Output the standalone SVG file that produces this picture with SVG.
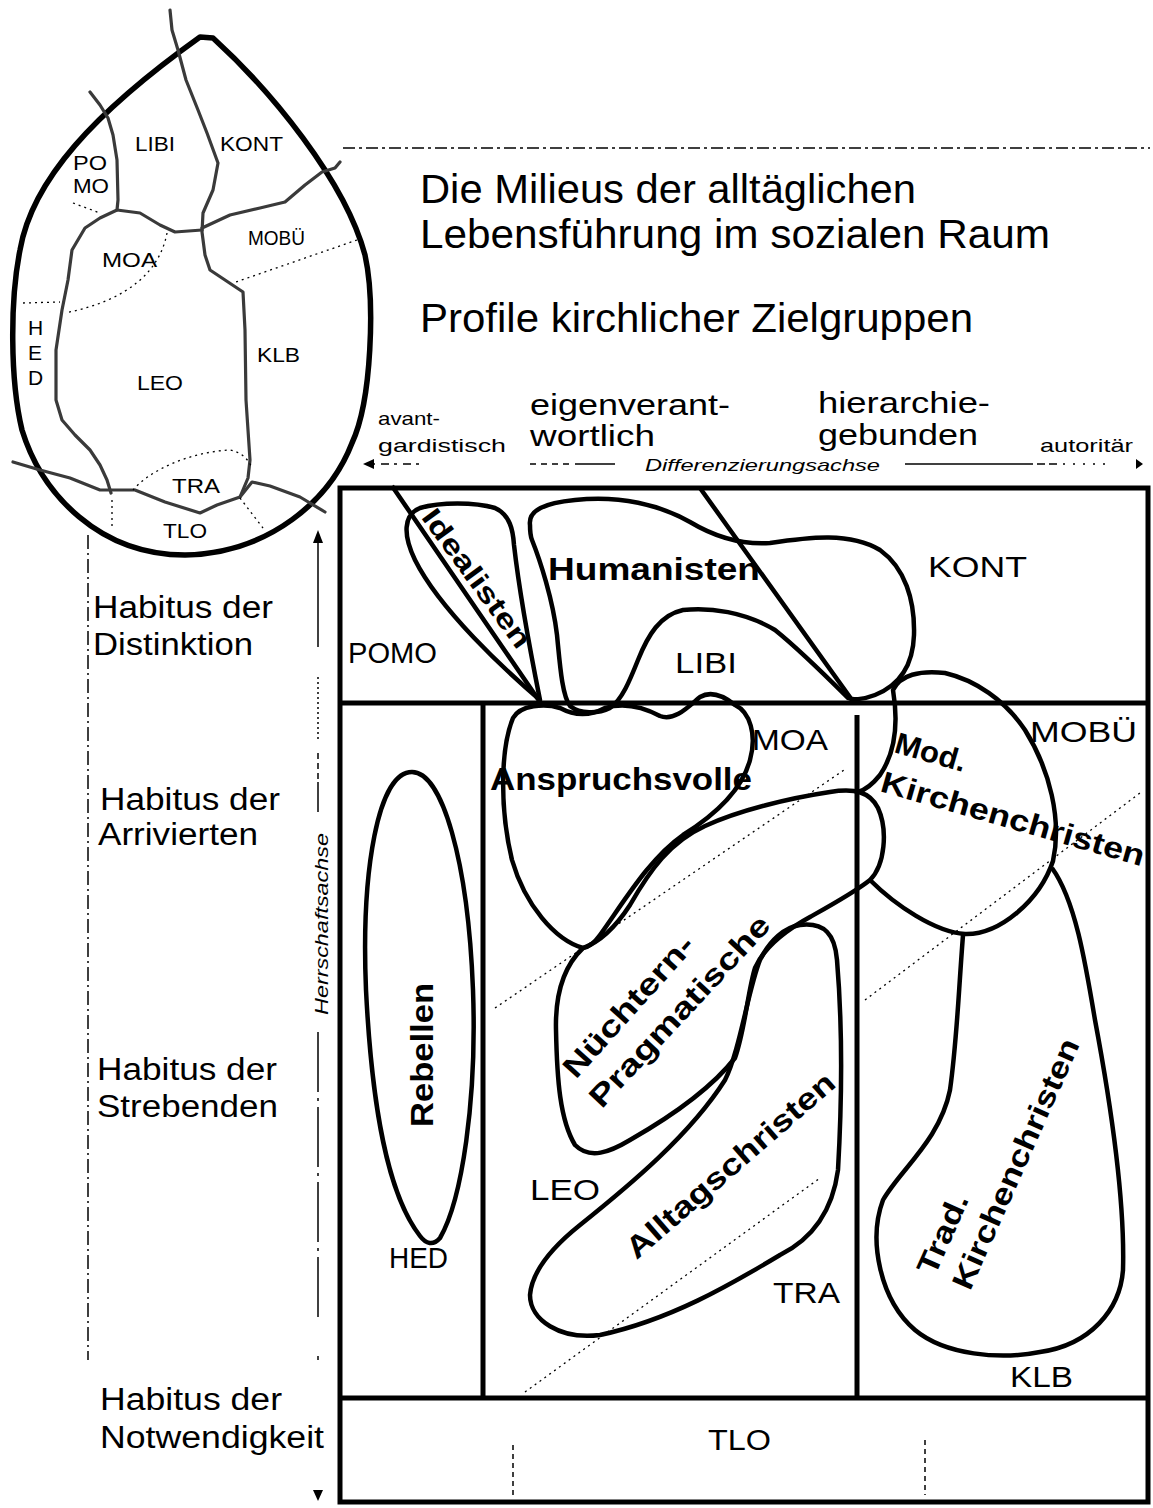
<svg xmlns="http://www.w3.org/2000/svg" width="1153" height="1508" viewBox="0 0 1153 1508">
<style>
.t{font-family:"Liberation Sans",Arial,sans-serif;fill:#000}
.b{font-weight:bold}
.i{font-style:italic}
.egg{fill:none;stroke:#000;stroke-width:5.5;stroke-linejoin:round}
.rope{fill:none;stroke:#3a3a3a;stroke-width:3.2;stroke-linejoin:round;stroke-linecap:round}
.dot{fill:none;stroke:#000;stroke-width:1.3;stroke-dasharray:2 4}
.frame{fill:none;stroke:#000;stroke-width:5}
.blob{fill:none;stroke:#000;stroke-width:4.5;stroke-linejoin:round}
.ax{fill:none;stroke:#000;stroke-width:1.5}
</style>
<rect width="1153" height="1508" fill="#fff"/>

<g id="egg-map">
<path class="egg" d="M 200,37 L 213,38 C 270,90 345,180 365,255 C 375,300 372,400 352,443 C 330,500 270,553 185,555 C 100,555 42,495 22,430 C 10,380 10,300 20,250 C 32,180 95,112 200,37 Z"/>
<path class="rope" d="M 170,10 L 172,30 L 178,50 L 186,80 L 198,110 L 207,133 L 218,163 L 213,190 L 203,213 L 202,232 L 205,255 L 210,270 L 225,280 L 243,292 L 245,330 L 246,400 L 250,460 L 248,478 L 240,497"/>
<path class="rope" d="M 90,92 L 100,105 L 108,118 L 113,135 L 117,160 L 118,200 L 117,210 L 100,218 L 85,228 L 72,250 L 68,280 L 62,310 L 56,350 L 56,400 L 62,420 L 75,435 L 90,450 L 100,465 L 107,480 L 111,493"/>
<path class="rope" d="M 117,210 L 140,213 L 160,225 L 175,232 L 202,230"/>
<path class="rope" d="M 202,228 L 230,215 L 260,208 L 285,202 L 305,185 L 322,172 L 335,168 L 340,162"/>
<path class="rope" d="M 13,462 L 40,470 L 70,478 L 100,490 L 135,490 L 165,502 L 200,513 L 217,505 L 240,497 L 252,482 L 270,486 L 300,497 L 325,512"/>
<path class="dot" d="M 73,203 L 100,213"/>
<path class="dot" d="M 167,233 C 160,270 130,300 65,313 M 23,303 L 60,302"/>
<path class="dot" d="M 357,240 L 233,283"/>
<path class="dot" d="M 133,490 C 150,470 190,452 230,450 C 240,452 248,458 252,468"/>
<path class="dot" d="M 112,500 L 112,527"/>
<path class="dot" d="M 240,498 L 263,528"/>
<g class="t" font-size="21">
<text x="135" y="151" textLength="40" lengthAdjust="spacingAndGlyphs">LIBI</text>
<text x="220" y="151" textLength="63" lengthAdjust="spacingAndGlyphs">KONT</text>
<text x="73" y="170" textLength="34" lengthAdjust="spacingAndGlyphs">PO</text>
<text x="73" y="193" textLength="36" lengthAdjust="spacingAndGlyphs">MO</text>
<text x="102" y="267" textLength="55" lengthAdjust="spacingAndGlyphs">MOA</text>
<text x="248" y="245" textLength="57" lengthAdjust="spacingAndGlyphs">MOBÜ</text>
<text x="28" y="335">H</text>
<text x="28" y="360">E</text>
<text x="28" y="385">D</text>
<text x="257" y="362" textLength="43" lengthAdjust="spacingAndGlyphs">KLB</text>
<text x="137" y="390" textLength="46" lengthAdjust="spacingAndGlyphs">LEO</text>
<text x="172" y="493" textLength="48" lengthAdjust="spacingAndGlyphs">TRA</text>
<text x="163" y="538" textLength="44" lengthAdjust="spacingAndGlyphs">TLO</text>
</g>
</g>

<g id="title" class="t" font-size="40">
<text x="420" y="203" textLength="496" lengthAdjust="spacingAndGlyphs">Die Milieus der alltäglichen</text>
<text x="420" y="248" textLength="630" lengthAdjust="spacingAndGlyphs">Lebensführung im sozialen Raum</text>
<text x="420" y="332" textLength="553" lengthAdjust="spacingAndGlyphs">Profile kirchlicher Zielgruppen</text>
</g>

<g id="column-headers" class="t">
<text x="378" y="425" font-size="19" textLength="62" lengthAdjust="spacingAndGlyphs">avant-</text>
<text x="378" y="452" font-size="19" textLength="128" lengthAdjust="spacingAndGlyphs">gardistisch</text>
<text x="530" y="415" font-size="29" textLength="200" lengthAdjust="spacingAndGlyphs">eigenverant-</text>
<text x="530" y="446" font-size="29" textLength="125" lengthAdjust="spacingAndGlyphs">wortlich</text>
<text x="818" y="413" font-size="29" textLength="172" lengthAdjust="spacingAndGlyphs">hierarchie-</text>
<text x="818" y="445" font-size="29" textLength="160" lengthAdjust="spacingAndGlyphs">gebunden</text>
<text x="1040" y="452" font-size="19" textLength="93" lengthAdjust="spacingAndGlyphs">autoritär</text>
</g>

<g id="row-headers" class="t" font-size="31">
<text x="93" y="618" textLength="180" lengthAdjust="spacingAndGlyphs">Habitus der</text>
<text x="93" y="655" textLength="160" lengthAdjust="spacingAndGlyphs">Distinktion</text>
<text x="100" y="810" textLength="180" lengthAdjust="spacingAndGlyphs">Habitus der</text>
<text x="98" y="845" textLength="160" lengthAdjust="spacingAndGlyphs">Arrivierten</text>
<text x="97" y="1080" textLength="180" lengthAdjust="spacingAndGlyphs">Habitus der</text>
<text x="97" y="1117" textLength="181" lengthAdjust="spacingAndGlyphs">Strebenden</text>
<text x="100" y="1410" textLength="182" lengthAdjust="spacingAndGlyphs">Habitus der</text>
<text x="100" y="1448" textLength="224" lengthAdjust="spacingAndGlyphs">Notwendigkeit</text>
</g>

<g id="axes">
<path class="ax" stroke-dasharray="12 4 3 4" d="M 343,148 L 1150,148"/>
<path class="ax" stroke-dasharray="14 4 2 4" d="M 88,535 L 88,1360"/>
<path class="ax" stroke-dasharray="3 6 8 5" d="M 372,464 L 420,464"/>
<path class="ax" stroke-dasharray="6 5" d="M 530,464 L 570,464"/>
<path class="ax" d="M 575,464 L 615,464"/>
<path class="ax" d="M 905,464 L 1025,464"/>
<path class="ax" stroke-dasharray="8 4" d="M 1025,464 L 1060,464"/>
<path class="ax" stroke-dasharray="2 8" d="M 1063,464 L 1112,464"/>
<polygon points="363,464 374,459 374,469" fill="#000"/>
<polygon points="1143,464 1136,459 1136,469" fill="#000"/>
<text class="t i" x="645" y="471" font-size="17" textLength="235" lengthAdjust="spacingAndGlyphs">Differenzierungsachse</text>
<polygon points="318,530 313,543 323,543" fill="#000"/>
<path class="ax" d="M 318,542 L 318,647"/>
<path class="ax" stroke-dasharray="2 3" d="M 318,677 L 318,740"/>
<path class="ax" stroke-dasharray="6 4" d="M 318,753 L 318,780"/>
<path class="ax" d="M 318,782 L 318,812"/>
<text class="t i" transform="translate(328,924) rotate(-90)" text-anchor="middle" font-size="19" textLength="182" lengthAdjust="spacingAndGlyphs">Herrschaftsachse</text>
<path class="ax" stroke-dasharray="60 6 3 6" d="M 318,1032 L 318,1320"/>
<path class="ax" d="M 318,1356 L 318,1360"/>
<polygon points="318,1501 313,1490 323,1490" fill="#000"/>
</g>

<g id="grid">
<rect class="frame" x="340" y="488" width="808" height="1014"/>
<path class="frame" d="M 340,703 L 1148,703 M 340,1398 L 1148,1398 M 483,703 L 483,1398 M 857,715 L 857,1398"/>
<path class="blob" d="M 392,486 L 540,702 M 700,488 L 852,700"/>
<path class="dot" d="M 525,1392 L 820,1178 M 495,1008 L 847,768 M 865,1000 L 1140,793"/>
<path class="ax" stroke-dasharray="5 4" d="M 513,1445 L 513,1497 M 925,1440 L 925,1495"/>
</g>

<g id="milieu-labels" class="t" font-size="30">
<text x="348" y="663" textLength="89" lengthAdjust="spacingAndGlyphs">POMO</text>
<text x="675" y="673" textLength="62" lengthAdjust="spacingAndGlyphs">LIBI</text>
<text x="928" y="577" textLength="99" lengthAdjust="spacingAndGlyphs">KONT</text>
<text x="752" y="750" textLength="76" lengthAdjust="spacingAndGlyphs">MOA</text>
<text x="1030" y="742" textLength="107" lengthAdjust="spacingAndGlyphs">MOBÜ</text>
<text x="530" y="1200" textLength="70" lengthAdjust="spacingAndGlyphs">LEO</text>
<text x="773" y="1303" textLength="67" lengthAdjust="spacingAndGlyphs">TRA</text>
<text x="389" y="1268" textLength="59" lengthAdjust="spacingAndGlyphs">HED</text>
<text x="1010" y="1387" textLength="63" lengthAdjust="spacingAndGlyphs">KLB</text>
<text x="708" y="1450" textLength="63" lengthAdjust="spacingAndGlyphs">TLO</text>
</g>

<g id="idealisten">
<path class="blob" d="M 540,700 C 505,670 440,610 415,560 C 403,535 403,515 420,508 C 440,502 475,502 495,508 C 510,515 513,530 514,545 C 518,580 528,640 540,700 Z"/>
<text class="t b" transform="translate(469,584) rotate(54)" text-anchor="middle" font-size="28" textLength="165" lengthAdjust="spacingAndGlyphs">Idealisten</text>
</g>

<g id="humanisten">
<path class="blob" d="M 530,525 C 528,510 545,503 575,500 C 620,495 660,505 690,522 C 715,537 740,545 770,543 C 810,537 850,532 880,550 C 905,568 915,600 914,635 C 913,665 900,685 875,695 C 862,700 852,700 848,698 C 830,680 800,650 775,630 C 745,612 710,607 683,610 C 660,615 648,635 638,660 C 630,680 622,700 610,708 C 598,714 580,714 570,706 C 562,695 560,665 557,635 C 553,600 540,560 532,540 C 530,535 530,530 530,525 Z"/>
<text class="t b" x="548" y="580" font-size="32" textLength="212" lengthAdjust="spacingAndGlyphs">Humanisten</text>
</g>

<g id="anspruchsvolle">
<path class="blob" d="M 583,948 C 555,940 525,905 512,860 C 500,810 500,750 513,718 C 520,705 545,703 560,708 C 575,716 590,716 605,708 C 625,702 645,708 660,716 C 675,722 690,705 700,697 C 712,690 725,697 735,705 C 750,712 757,735 750,760 C 742,790 715,815 683,835 C 650,858 625,900 600,935 C 595,942 590,947 583,948 Z"/>
<text class="t b" x="490" y="790" font-size="32" textLength="262" lengthAdjust="spacingAndGlyphs">Anspruchsvolle</text>
</g>

<g id="rebellen">
<path class="blob" d="M 412,772 C 442,772 468,860 473,990 C 477,1100 462,1200 440,1238 C 433,1246 426,1244 420,1236 C 388,1195 372,1110 366,990 C 361,870 378,772 412,772 Z"/>
<text class="t b" transform="translate(433,1055) rotate(-90)" text-anchor="middle" font-size="31" textLength="144" lengthAdjust="spacingAndGlyphs">Rebellen</text>
</g>

<g id="nuechtern-pragmatische">
<path class="blob" d="M 583,948 C 565,965 555,990 556,1030 C 557,1080 560,1120 575,1145 C 590,1160 610,1152 630,1140 C 665,1120 710,1090 735,1058 C 745,1030 748,990 755,968 C 765,945 790,928 810,917 C 835,903 855,892 870,880 C 885,865 888,830 878,808 C 870,792 855,788 830,792 C 790,798 740,810 705,826 C 670,842 650,870 630,905 C 615,928 600,942 583,948 Z"/>
<text class="t b" transform="translate(636,1013) rotate(-48)" text-anchor="middle" font-size="30" textLength="180" lengthAdjust="spacingAndGlyphs">Nüchtern-</text>
<text class="t b" transform="translate(687,1018) rotate(-47)" text-anchor="middle" font-size="30" textLength="250" lengthAdjust="spacingAndGlyphs">Pragmatische</text>
</g>

<g id="alltagschristen">
<path class="blob" d="M 800,925 C 825,922 835,935 837,960 C 842,1020 842,1100 838,1170 C 832,1215 810,1240 780,1255 C 730,1285 670,1320 600,1335 C 560,1340 530,1320 530,1295 C 532,1270 555,1245 580,1225 C 630,1185 690,1135 725,1080 C 740,1050 748,990 760,960 C 770,940 785,927 800,925 Z"/>
<text class="t b" transform="translate(737,1173) rotate(-41)" text-anchor="middle" font-size="30" textLength="266" lengthAdjust="spacingAndGlyphs">Alltagschristen</text>
</g>

<g id="mod-kirchenchristen">
<path class="blob" d="M 870,880 C 895,905 935,932 965,934 C 1000,935 1040,900 1053,861 C 1062,820 1050,770 1025,730 C 1005,700 975,680 945,673 C 920,670 900,675 893,690 C 898,720 897,750 880,775 C 872,785 865,790 858,792"/>
<text class="t b" transform="translate(893,752) rotate(16)" font-size="30" textLength="73" lengthAdjust="spacingAndGlyphs">Mod.</text>
<text class="t b" transform="translate(879,791) rotate(16)" font-size="30" textLength="273" lengthAdjust="spacingAndGlyphs">Kirchenchristen</text>
</g>

<g id="trad-kirchenchristen">
<path class="blob" d="M 963,935 C 958,1000 957,1040 950,1090 C 940,1140 900,1170 883,1200 C 868,1240 880,1300 915,1330 C 945,1355 1000,1360 1040,1352 C 1090,1345 1120,1310 1123,1270 C 1125,1200 1110,1100 1095,1020 C 1085,960 1075,900 1052,868"/>
<text class="t b" transform="translate(952,1238) rotate(-66)" text-anchor="middle" font-size="30" textLength="85" lengthAdjust="spacingAndGlyphs">Trad.</text>
<text class="t b" transform="translate(1025,1168) rotate(-66)" text-anchor="middle" font-size="30" textLength="271" lengthAdjust="spacingAndGlyphs">Kirchenchristen</text>
</g>
</svg>
